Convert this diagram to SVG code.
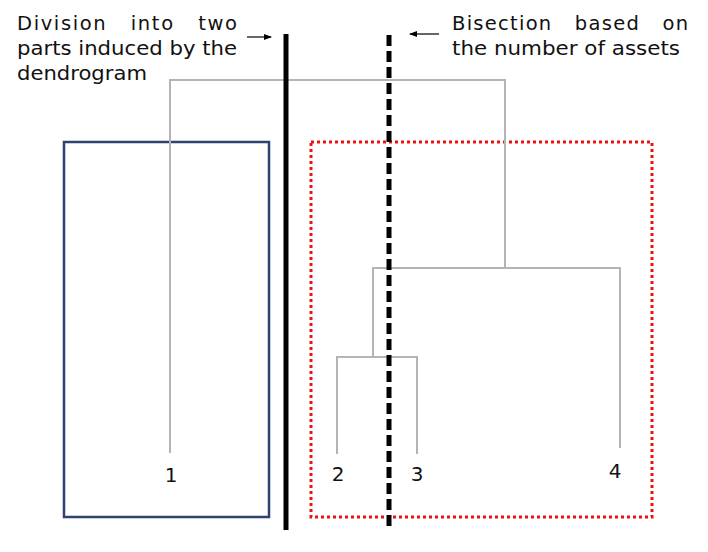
<svg xmlns="http://www.w3.org/2000/svg" width="708" height="552" viewBox="0 0 708 552">
<style>
text{font-family:"DejaVu Sans","Open Sans",sans-serif;font-size:19.5px;fill:#111}
.num{font-size:20px}
.den{stroke:#b4b4b4;stroke-width:2;fill:none}
.arr{stroke:#000;stroke-width:1.2;fill:none}
</style>
<defs>
<marker id="ah" markerWidth="8" markerHeight="6" refX="7" refY="3" orient="auto" markerUnits="userSpaceOnUse">
<path d="M0,0 L8,3 L0,6 Z" fill="#000"/>
</marker>
</defs>
<rect width="708" height="552" fill="#fff"/>
<g id="cluster-left">
<rect x="64" y="142" width="205" height="375" fill="none" stroke="#2f4270" stroke-width="2.5"/>
</g>
<g id="cluster-right">
<rect x="311" y="142" width="341" height="375" fill="none" stroke="#ee1111" stroke-width="3" stroke-dasharray="3 3"/>
</g>
<g id="connectors">
<path class="den" d="M170,453 V80 H505 V268"/>
<path class="den" d="M373,357 V268 H620 V448"/>
<path class="den" d="M337,454 V357 H417 V454"/>
<line class="arr" x1="247" y1="37" x2="271" y2="37" marker-end="url(#ah)"/>
<line class="arr" x1="439" y1="34" x2="410" y2="34" marker-end="url(#ah)"/>
</g>
<g id="split-dendrogram">
<line x1="286" y1="34" x2="286" y2="530" stroke="#000" stroke-width="5"/>
</g>
<g id="split-bisection">
<line x1="389" y1="35" x2="389" y2="530" stroke="#000" stroke-width="5" stroke-dasharray="11 5"/>
</g>
<g id="leaf-1"><text class="num" x="171" y="482" text-anchor="middle">1</text></g>
<g id="leaf-2"><text class="num" x="338" y="481" text-anchor="middle">2</text></g>
<g id="leaf-3"><text class="num" x="417" y="481" text-anchor="middle">3</text></g>
<g id="leaf-4"><text class="num" x="615" y="478" text-anchor="middle">4</text></g>
<g id="label-dendrogram">
<text x="17" y="30" textLength="220" lengthAdjust="spacing" xml:space="preserve">Division   into   two</text>
<text x="17" y="55" textLength="220" lengthAdjust="spacingAndGlyphs">parts induced by the</text>
<text x="17" y="80" textLength="130" lengthAdjust="spacingAndGlyphs">dendrogram</text>
</g>
<g id="label-bisection">
<text x="452" y="30" textLength="236" lengthAdjust="spacing" xml:space="preserve">Bisection   based   on</text>
<text x="452" y="55" textLength="228" lengthAdjust="spacingAndGlyphs">the number of assets</text>
</g>
</svg>
